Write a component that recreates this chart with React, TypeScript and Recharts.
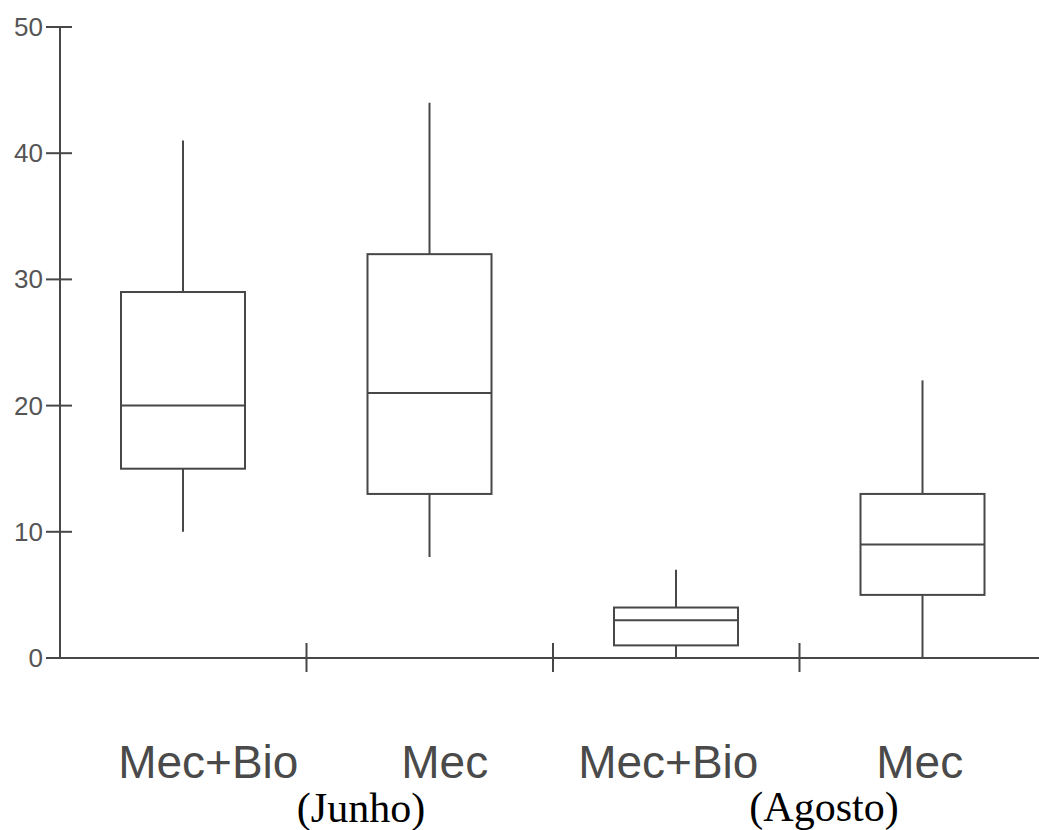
import React from 'react';
import { ComposedChart, Bar, XAxis, YAxis } from 'recharts';

const categories = ['Mec+Bio', 'Mec', 'Mec+Bio', 'Mec'];
const mins = [10, 8, 0, 0];
const q1s = [15, 13, 1, 5];
const medians = [20, 21, 3, 9];
const q3s = [29, 32, 4, 13];
const maxs = [41, 44, 7, 22];
const yTicks = [0, 10, 20, 30, 40, 50];
const monthLabels = ['(Junho)', '(Agosto)'];

const data = categories.map((c, i) => ({
  key: String(i),
  name: c,
  min: mins[i],
  q1: q1s[i],
  median: medians[i],
  q3: q3s[i],
  max: maxs[i],
  range: [mins[i], maxs[i]],
}));

const INK = '#474747';
const LABEL_DX = [25, 15, -8, -3];

const BoxShape = (props: any) => {
  const { x, y, width, height, payload } = props;
  if (x == null || y == null) return null;
  const top = Math.min(y, y + height);
  const bottom = Math.max(y, y + height);
  const ppu = (bottom - top) / (payload.max - payload.min);
  const toY = (v: number) => bottom - (v - payload.min) * ppu;
  const cx = x + width / 2;
  const yq1 = toY(payload.q1);
  const yq3 = toY(payload.q3);
  const ym = toY(payload.median);
  return (
    <g stroke={INK} strokeWidth={2} fill="none">
      <line x1={cx} x2={cx} y1={top} y2={yq3} />
      <line x1={cx} x2={cx} y1={yq1} y2={bottom} />
      <rect x={x} y={yq3} width={width} height={yq1 - yq3} fill="none" />
      <line x1={x} x2={x + width} y1={ym} y2={ym} />
    </g>
  );
};

const XTick = (props: any) => {
  const { x, y, index } = props;
  const band = 246.5;
  return (
    <g>
      {index > 0 && (
        <line x1={x - band / 2} x2={x - band / 2} y1={y - 15} y2={y + 14} stroke={INK} strokeWidth={2} />
      )}
      <text
        x={x + LABEL_DX[index]}
        y={y + 120}
        textAnchor="middle"
        fontFamily="'Liberation Sans', Arial, sans-serif"
        fontSize={46}
        fill="#4a4a4a"
      >
        {categories[index]}
      </text>
    </g>
  );
};

const YTick = (props: any) => {
  const { x, y, payload } = props;
  return (
    <g>
      <line x1={x - 14} x2={x + 12} y1={y} y2={y} stroke={INK} strokeWidth={2} />
      <text
        x={x - 17}
        y={y + 9}
        textAnchor="end"
        fontFamily="'Liberation Sans', Arial, sans-serif"
        fontSize={26}
        fill="#555"
      >
        {payload.value}
      </text>
    </g>
  );
};

export default function App() {
  return (
    <div style={{ position: 'absolute', left: 0, top: 0, width: 1039, height: 830, overflow: 'hidden', background: '#fff' }}>
      <ComposedChart
        width={1046}
        height={830}
        data={data}
        margin={{ top: 27, right: 0, bottom: 0, left: 0 }}
      >
        <XAxis
          dataKey="key"
          height={172}
          tickLine={false}
          tickSize={0}
          tickMargin={0}
          axisLine={{ stroke: INK, strokeWidth: 2 }}
          tick={<XTick />}
          interval={0}
        />
        <YAxis
          width={60}
          domain={[0, 50]}
          ticks={yTicks}
          tickLine={false}
          tickSize={0}
          tickMargin={0}
          axisLine={{ stroke: INK, strokeWidth: 2 }}
          tick={<YTick />}
          interval={0}
        />
        <Bar dataKey="range" barSize={124} shape={<BoxShape />} isAnimationActive={false} />
      </ComposedChart>
      <svg width={1039} height={830} style={{ position: 'absolute', left: 0, top: 0, pointerEvents: 'none' }}>
        <text x={361} y={822} textAnchor="middle" fontFamily="'Liberation Serif', 'Times New Roman', serif" fontSize={42} fill="#000">
          {monthLabels[0]}
        </text>
        <text x={824} y={821} textAnchor="middle" fontFamily="'Liberation Serif', 'Times New Roman', serif" fontSize={42} fill="#000">
          {monthLabels[1]}
        </text>
      </svg>
    </div>
  );
}
